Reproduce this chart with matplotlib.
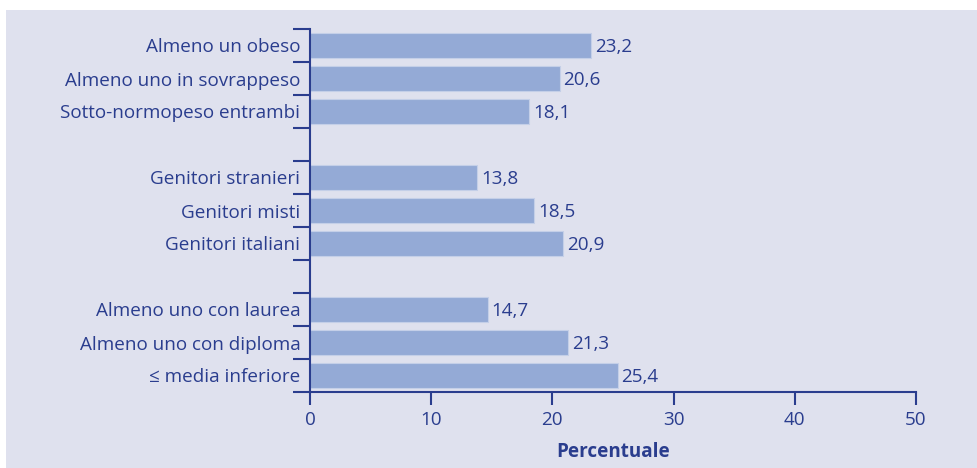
import matplotlib
matplotlib.use("Agg")
import matplotlib.pyplot as plt
from matplotlib.patches import Rectangle

plt.rcParams['font.family'] = ['Open Sans', 'DejaVu Sans']

group1_labels = ["Almeno un obeso", "Almeno uno in sovrappeso", "Sotto-normopeso entrambi"]
group1_values = [23.2, 20.6, 18.1]
group2_labels = ["Genitori stranieri", "Genitori misti", "Genitori italiani"]
group2_values = [13.8, 18.5, 20.9]
group3_labels = ["Almeno uno con laurea", "Almeno uno con diploma", "≤ media inferiore"]
group3_values = [14.7, 21.3, 25.4]
x_ticks = [0, 10, 20, 30, 40, 50]
x_label = "Percentuale"

TXT = "#2a3d8e"
BAR = "#94aad6"
BG = "#dfe1ee"
FS = 13.6

W, H = 978, 468
fig = plt.figure(figsize=(W / 100, H / 100), dpi=100)
fig.patch.set_facecolor("white")
fig.patches.append(Rectangle((6 / W, 0), 1 - 6 / W, 1 - 10 / H, transform=fig.transFigure,
                             facecolor=BG, edgecolor="none", zorder=-10))

ax = fig.add_axes([310 / W, (H - 392) / H, (916 - 310) / W, (392 - 29) / H])
ax.set_facecolor("none")

groups = [(group1_labels, group1_values), (group2_labels, group2_values), (group3_labels, group3_values)]
positions, labels, values = [], [], []
pos = 0
for gi, (labs, vals) in enumerate(groups):
    for l, v in zip(labs, vals):
        positions.append(pos)
        labels.append(l)
        values.append(v)
        pos += 1
    pos += 1
nslots = pos - 1

ax.barh(positions, values, height=0.78, color=BAR, edgecolor="#c4cfe8", linewidth=0.8)
for p, v in zip(positions, values):
    ax.text(v + 0.3, p + 0.04, f"{v:.1f}".replace(".", ","), va="center", ha="left",
            fontsize=FS, color=TXT)

ax.set_xlim(0, 50)
ax.set_ylim(nslots - 0.5, -0.5)
ax.set_xticks(x_ticks)
ax.set_xticklabels([str(t) for t in x_ticks], fontsize=FS, color=TXT)
ax.tick_params(axis="x", length=9, width=1.5, color=TXT, pad=5)

ax.set_yticks([i - 0.5 for i in range(nslots + 1)])
ax.set_yticklabels([])
ax.tick_params(axis="y", which="major", length=12, width=1.5, color=TXT)
ax.set_yticks(positions, minor=True)
ax.set_yticklabels(labels, minor=True, fontsize=FS, color=TXT)
ax.tick_params(axis="y", which="minor", length=0, pad=7)

for s in ["top", "right"]:
    ax.spines[s].set_visible(False)
for s in ["left", "bottom"]:
    ax.spines[s].set_color(TXT)
    ax.spines[s].set_linewidth(1.5)

ax.set_xlabel(x_label, fontsize=FS, color=TXT, fontweight="bold", labelpad=9)

fig.savefig("out.png", dpi=100, facecolor=fig.get_facecolor())
